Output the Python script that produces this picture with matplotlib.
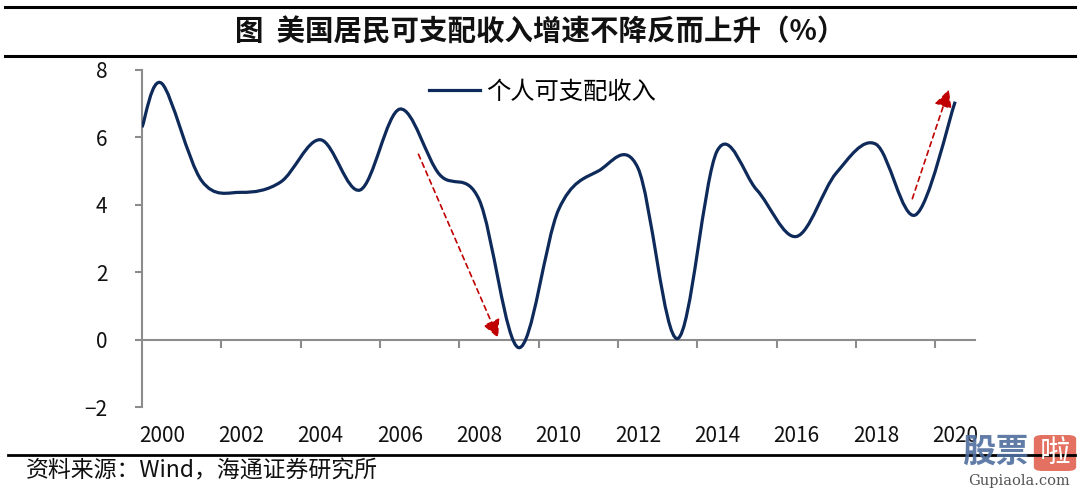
import numpy as np
import matplotlib
matplotlib.use("Agg")
import matplotlib.pyplot as plt
from matplotlib.path import Path
from matplotlib.patches import PathPatch, FancyBboxPatch
from matplotlib.lines import Line2D
import matplotlib.transforms as mtransforms

plt.rcParams['font.family'] = ['Noto Sans CJK SC', 'DejaVu Sans']
plt.rcParams['axes.unicode_minus'] = True

# yearly readings of the curve (year, %); the line starts half a year before 2000
years = [1999.5, 2000, 2001, 2002, 2003, 2004, 2005, 2006, 2007, 2008, 2009,
         2010, 2011, 2012, 2013, 2014, 2015, 2016, 2017, 2018, 2019, 2020]
income = [6.3, 7.6, 4.72, 4.37, 4.68, 5.93, 4.44, 6.84, 4.9, 4.15, -0.24,
          3.85, 5.0, 5.1, 0.03, 5.6, 4.44, 3.06, 4.94, 5.8, 3.7, 7.06]

year_labels = [2000, 2002, 2004, 2006, 2008, 2010, 2012, 2014, 2016, 2018, 2020]
y_ticks = [-2, 0, 2, 4, 6, 8]
boundary_ticks = [2001.5, 2003.5, 2005.5, 2007.5, 2009.5, 2011.5, 2013.5,
                  2015.5, 2017.5, 2019.5]

# red dashed arrows: (start, tip)
arrow_down = [(2006.47, 5.5), (2008.48, 0.05)]
arrow_up = [(2018.92, 4.18), (2019.84, 7.42)]

LINE_COLOR = "#0E2A5A"
AXIS_GRAY = "#8C8C8C"
RED = "#C00000"


def smooth_path(xs, ys, tension=1 / 6):
    # catmull-rom style bezier segments, like a spreadsheet "smoothed line"
    pts = list(zip(xs, ys))
    verts = [pts[0]]
    codes = [Path.MOVETO]
    n = len(pts)
    for i in range(n - 1):
        p0 = pts[i - 1] if i > 0 else pts[i]
        p1 = pts[i]
        p2 = pts[i + 1]
        p3 = pts[i + 2] if i + 2 < n else pts[i + 1]
        c1 = (p1[0] + (p2[0] - p0[0]) * tension, p1[1] + (p2[1] - p0[1]) * tension)
        c2 = (p2[0] - (p3[0] - p1[0]) * tension, p2[1] - (p3[1] - p1[1]) * tension)
        verts += [c1, c2, p2]
        codes += [Path.CURVE4] * 3
    return Path(verts, codes)


fig = plt.figure(figsize=(10.8, 4.91), dpi=100)
ax = fig.add_axes([142 / 1080, 84 / 491, 833 / 1080, 337 / 491])

ax.add_patch(PathPatch(smooth_path(years, income), facecolor="none",
                       edgecolor=LINE_COLOR, lw=2.3, capstyle="butt", zorder=3))

for start, tip in (arrow_down, arrow_up):
    ax.annotate("", xy=tip, xytext=start,
                arrowprops=dict(arrowstyle="-|>", color=RED, lw=1.2,
                                linestyle=(0, (3, 2.5)), mutation_scale=27,
                                shrinkA=0, shrinkB=0), zorder=4)

ax.set_xlim(1999.5, 2020.5)
ax.set_ylim(-2, 8)

for s in ["top", "right"]:
    ax.spines[s].set_visible(False)
ax.spines["left"].set_color(AXIS_GRAY)
ax.spines["left"].set_linewidth(1.5)
ax.spines["bottom"].set_position(("data", 0))
ax.spines["bottom"].set_color(AXIS_GRAY)
ax.spines["bottom"].set_linewidth(1.5)

ax.set_yticks(y_ticks)
ax.set_yticklabels([f"{v}" if v >= 0 else f"\u2212{-v}" for v in y_ticks])
ax.tick_params(axis="y", length=5, width=1.5, color=AXIS_GRAY, pad=20,
               labelsize=15, labelcolor="#111111")
ax.set_xticks(boundary_ticks)
ax.set_xticklabels([])
ax.tick_params(axis="x", length=6, width=1.5, color=AXIS_GRAY)

trans = mtransforms.blended_transform_factory(ax.transData, ax.transAxes)
for yr in year_labels:
    ax.text(yr, -0.085, str(yr), transform=trans, ha="center", va="center",
            fontsize=15, color="#111111")

handle = Line2D([], [], color=LINE_COLOR, lw=2.3)
leg = ax.legend([handle], ["个人可支配收入"], loc="center left",
                bbox_to_anchor=(0.33, 0.935), frameon=False, fontsize=17.5,
                handlelength=2.1, handletextpad=0.25, borderpad=0)

# title block and rules
fig.add_artist(Line2D([5 / 1080, 1075 / 1080], [1 - 7 / 491, 1 - 7 / 491],
                      color="black", lw=2.2))
fig.add_artist(Line2D([5 / 1080, 1075 / 1080], [1 - 56 / 491, 1 - 56 / 491],
                      color="black", lw=2.2))
fig.add_artist(Line2D([8 / 1080, 1075 / 1080], [1 - 455 / 491, 1 - 455 / 491],
                      color="black", lw=2.0))
fig.text(540 / 1080, 1 - 32 / 491, "图  美国居民可支配收入增速不降反而上升（%）",
         ha="center", va="center", fontsize=20.5, fontweight="bold", color="#111111")
fig.text(26 / 1080, 1 - 471 / 491, "资料来源：Wind，海通证券研究所",
         ha="left", va="center", fontsize=16.5, color="#111111")

# site watermark in the corner
fig.text(995 / 1080, 1 - 452 / 491, "股票", ha="center", va="center",
         fontsize=24, fontweight="bold", color="#4F6E9E", alpha=0.9)
fig.add_artist(FancyBboxPatch((1036 / 1080, 1 - 470 / 491), 38 / 1080, 34 / 491,
                              boxstyle="round,pad=0.002,rounding_size=0.008",
                              transform=fig.transFigure, facecolor="#E0614F",
                              edgecolor="none", alpha=0.9))
fig.text(1055 / 1080, 1 - 453 / 491, "啦", ha="center", va="center",
         fontsize=22, color="white")
fig.text(1019 / 1080, 1 - 481 / 491, "Gupiaola.com", ha="center", va="center",
         fontsize=10.5, family="DejaVu Serif", color="#555555")

fig.savefig("out.png", dpi=100)
